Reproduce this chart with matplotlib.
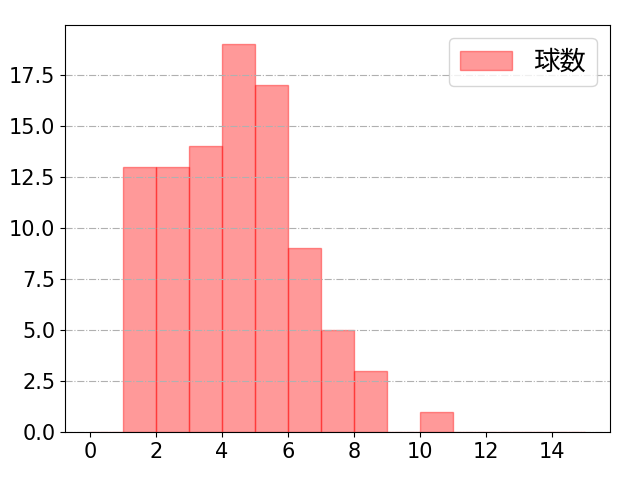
import matplotlib
matplotlib.use("Agg")
import matplotlib.pyplot as plt
import numpy as np

plt.rcParams['font.family'] = ['DejaVu Sans', 'Noto Sans CJK JP']
plt.rcParams['font.size'] = 15

# pitch count per plate appearance, bins of width 1
bin_edges = np.arange(0, 16, 1)
counts = [0, 13, 13, 14, 19, 17, 9, 5, 3, 0, 1, 0, 0, 0, 0]
label = '球数'

fig, ax = plt.subplots(figsize=(6.4, 4.8), dpi=100)
ax.hist(bin_edges[:-1], bins=bin_edges, weights=counts,
        color='red', alpha=0.4, edgecolor='red', linewidth=1, label=label)
ax.grid(axis='y', linestyle='-.', color='#b0b0b0', linewidth=0.8)
ax.set_xticks(np.arange(0, 16, 2))
ax.tick_params(labelsize=15)
ax.legend(loc='upper right', prop={'family': 'Noto Sans CJK JP', 'size': 19})
fig.subplots_adjust(left=0.102, right=0.953, top=0.948, bottom=0.1)
fig.savefig('out.png')
